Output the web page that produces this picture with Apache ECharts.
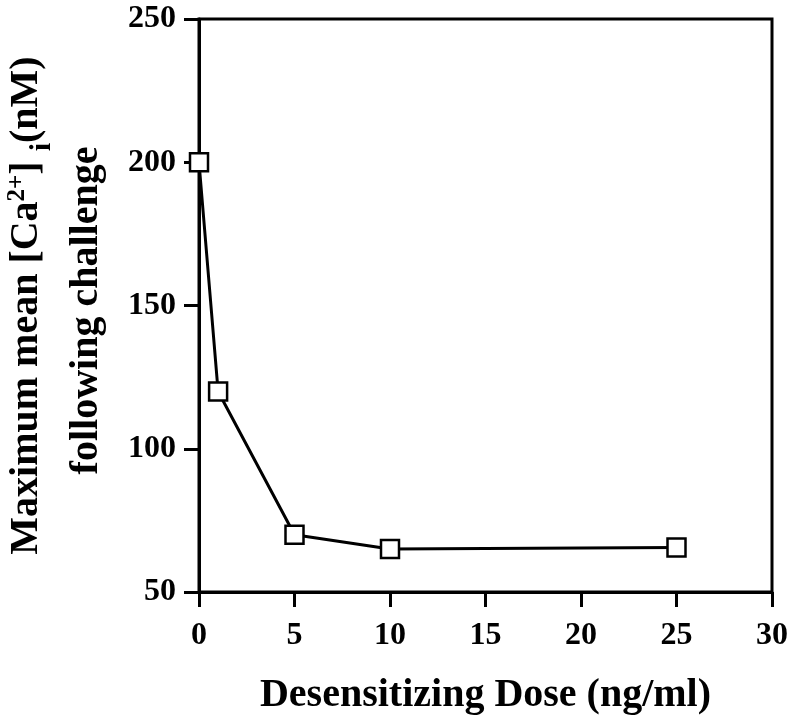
<!DOCTYPE html>
<html><head><meta charset="utf-8">
<script src="https://cdn.jsdelivr.net/npm/echarts@6/dist/echarts.min.js"></script>
<style>html,body{margin:0;padding:0;background:#fff}#c{width:800px;height:728px}</style>
</head><body><div id="c"></div>
<script>
const doses = [0, 1, 5, 10, 25];
const caValues = [200, 120, 70, 65, 65.5];
const xTicks = [0, 5, 10, 15, 20, 25, 30];
const yTicks = [50, 100, 150, 200, 250];

const F = '"Liberation Serif","Times New Roman",serif';
const chart = echarts.init(document.getElementById('c'));
chart.setOption({
  animation: false,
  backgroundColor: '#fff',
  grid: {left: 199, right: 28, top: 19, bottom: 136, show: true, borderColor: '#000', borderWidth: 3, backgroundColor: 'transparent', containLabel: false, outerBoundsMode: 'none'},
  xAxis: {
    type: 'value', min: xTicks[0], max: xTicks[xTicks.length-1], interval: 5,
    axisLine: {show: true, onZero: false, lineStyle: {color: '#000', width: 3}},
    axisTick: {show: true, inside: false, length: 15, lineStyle: {color: '#000', width: 3}},
    splitLine: {show: false},
    axisLabel: {show: true, color: '#000', fontFamily: F, fontWeight: 'bold', fontSize: 32, margin: 28},
    name: 'Desensitizing Dose (ng/ml)', nameLocation: 'middle', nameGap: 84,
    nameTextStyle: {color: '#000', fontFamily: F, fontWeight: 'bold', fontSize: 40}
  },
  yAxis: {
    type: 'value', min: yTicks[0], max: yTicks[yTicks.length-1], interval: 50,
    axisLine: {show: true, onZero: false, lineStyle: {color: '#000', width: 3}},
    axisTick: {show: true, inside: false, length: 15, lineStyle: {color: '#000', width: 3}},
    splitLine: {show: false},
    axisLabel: {show: true, color: '#000', fontFamily: F, fontWeight: 'bold', fontSize: 32, margin: 23},
    name: '{t|Maximum mean [Ca}{sup|2+}{t|] }{sub|i}{t|(nM)}\n{t2|following challenge}',
    nameLocation: 'middle', nameGap: 79, nameRotate: 90,
    nameTextStyle: {
      color: '#000', fontFamily: F, fontWeight: 'bold', fontSize: 40, lineHeight: 60,
      rich: {
        t: {fontFamily: F, fontWeight: 'bold', fontSize: 40, lineHeight: 60, color: '#000'},
        t2: {fontFamily: F, fontWeight: 'bold', fontSize: 40, lineHeight: 60, color: '#000', padding: [0, 10, 0, 0]},
        sup: {fontFamily: F, fontWeight: 'bold', fontSize: 25, color: '#000', verticalAlign: 'top', padding: [8, 0, 0, 0]},
        sub: {fontFamily: F, fontWeight: 'bold', fontSize: 30, color: '#000', verticalAlign: 'bottom', padding: [0, 0, 0, 0]}
      }
    }
  },
  series: [{
    type: 'line',
    data: doses.map((d, i) => [d, caValues[i]]),
    symbol: 'rect', symbolSize: 18,
    itemStyle: {color: '#fff', borderColor: '#000', borderWidth: 2.5},
    lineStyle: {color: '#000', width: 3},
    z: 5
  }]
});
</script></body></html>
